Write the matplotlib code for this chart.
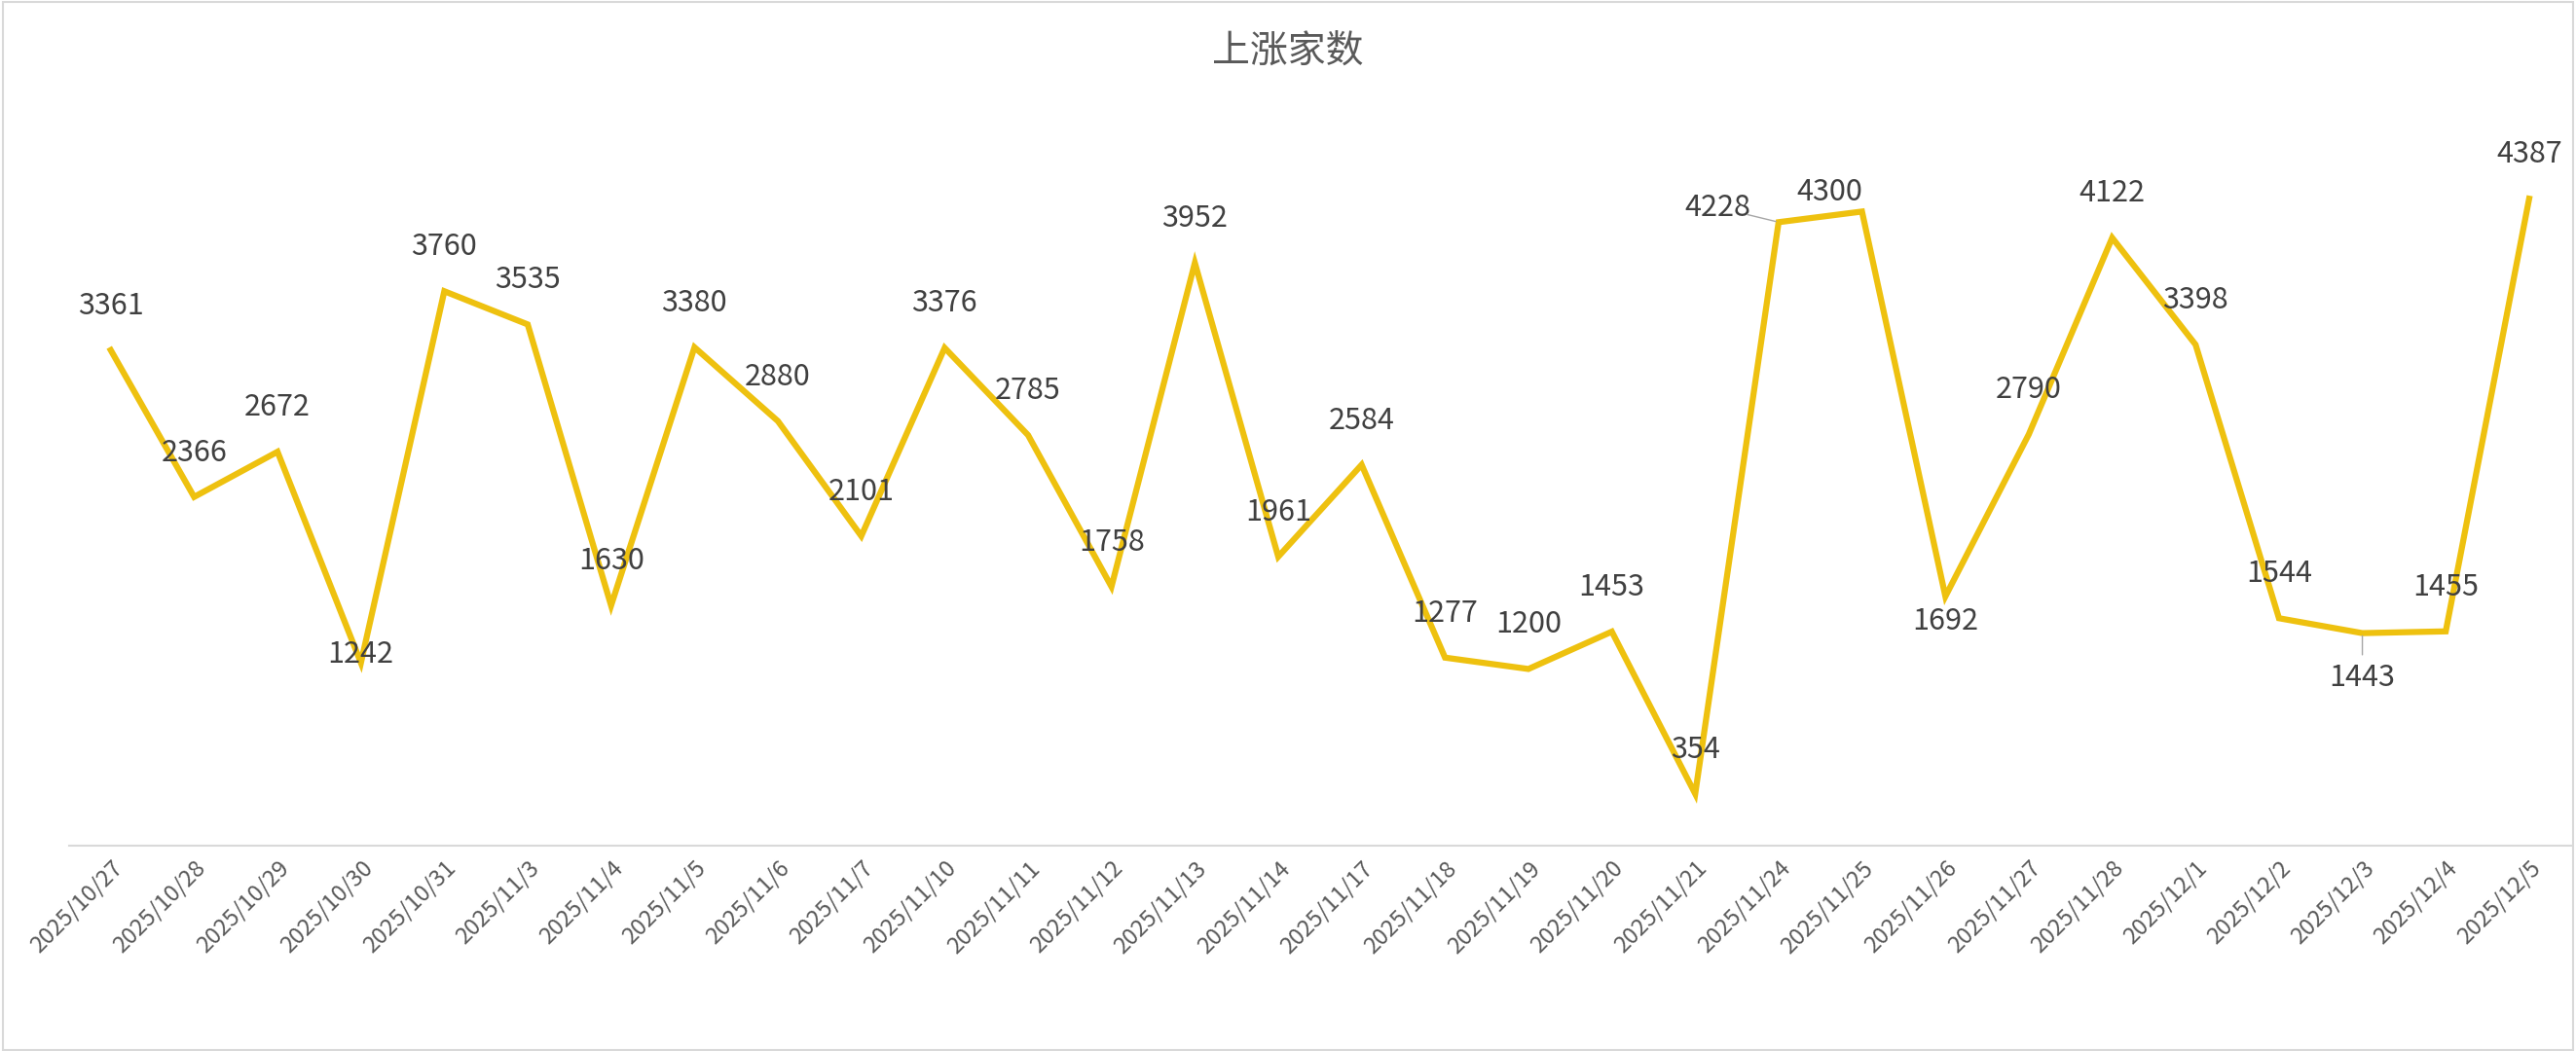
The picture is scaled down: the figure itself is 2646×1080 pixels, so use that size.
import matplotlib
matplotlib.use("Agg")
import matplotlib.pyplot as plt
from matplotlib.patches import Rectangle

plt.rcParams['font.family'] = ['Noto Sans CJK SC', 'DejaVu Sans']

dates = ["2025/10/27","2025/10/28","2025/10/29","2025/10/30","2025/10/31","2025/11/3","2025/11/4",
         "2025/11/5","2025/11/6","2025/11/7","2025/11/10","2025/11/11","2025/11/12","2025/11/13",
         "2025/11/14","2025/11/17","2025/11/18","2025/11/19","2025/11/20","2025/11/21","2025/11/24",
         "2025/11/25","2025/11/26","2025/11/27","2025/11/28","2025/12/1","2025/12/2","2025/12/3",
         "2025/12/4","2025/12/5"]
values = [3361,2366,2672,1242,3760,3535,1630,3380,2880,2101,3376,2785,1758,3952,1961,2584,
          1277,1200,1453,354,4228,4300,1692,2790,4122,3398,1544,1443,1455,4387]
title = "上涨家数"

S = 1.6875
offsets = {3: (0, 5), 22: (0, -15), 27: (0, -27), 20: (-37, 9), 21: (-20, 12)}

fig = plt.figure(figsize=(26.46, 10.8), dpi=100)
fig.patches.append(Rectangle((0.001, 0.001), 0.998, 0.997, transform=fig.transFigure,
                             fill=False, edgecolor='#d9d9d9', linewidth=1.5))
ax = fig.add_axes([0.0268, 0.195, 0.9712, 0.702])
x = list(range(len(values)))
ax.plot(x, values, color='#EEC10F', linewidth=4.5, solid_joinstyle='miter')
ax.set_xlim(-0.5, len(values) - 0.5)
ax.set_ylim(0, 5000)
for i, v in enumerate(values):
    dx, dy = offsets.get(i, (0, 27))
    ax.annotate(str(v), (i, v), xytext=(dx * S, dy * S), textcoords='offset pixels',
                ha='center', va='center', fontsize=22, color='#404040')
    if i in (20, 27):
        ax.annotate("", (i, v), xytext=(dx * S * 0.55, dy * S * 0.55), textcoords='offset pixels',
                    arrowprops=dict(arrowstyle='-', color='#a6a6a6', lw=1))
ax.set_xticks(x)
ax.set_xticklabels(dates, rotation=45, ha='right', rotation_mode='anchor', fontsize=17, color='#595959')
ax.set_yticks([])
for s in ['top', 'left', 'right']:
    ax.spines[s].set_visible(False)
ax.spines['bottom'].set_color('#d9d9d9')
ax.spines['bottom'].set_linewidth(1.5)
ax.tick_params(axis='x', length=0, pad=8)
fig.text(0.5, 0.95, title, ha='center', va='center', fontsize=28, color='#595959')
fig.savefig("out.png", dpi=100)
